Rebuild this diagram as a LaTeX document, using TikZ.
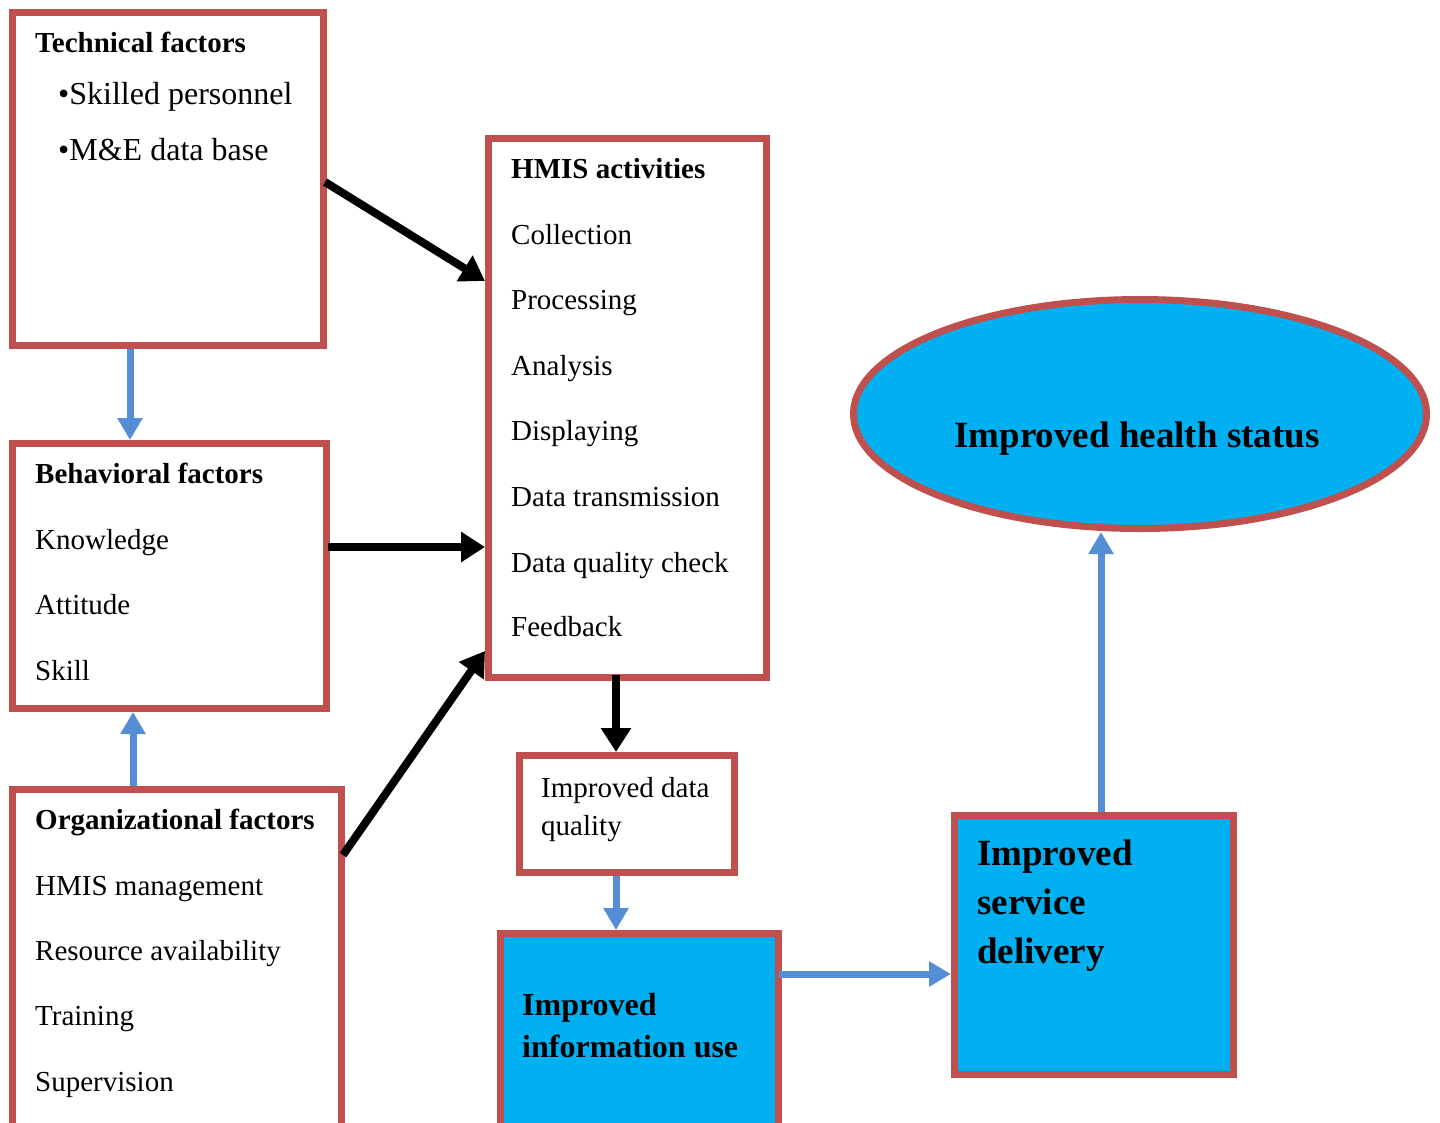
\documentclass[tikz,border=0pt]{standalone}
\usepackage{fontspec}
\setmainfont{Liberation Serif}
\usetikzlibrary{arrows.meta,calc,shapes.geometric}
\definecolor{bred}{HTML}{C0504D}
\definecolor{bfill}{HTML}{00B0F0}
\definecolor{barrow}{HTML}{558ED5}
\begin{document}
\begin{tikzpicture}[x=1pt,y=-1pt,
 box/.style={draw=bred,line width=7pt,rectangle,inner sep=0pt,fill=white},
 fbox/.style={box,fill=bfill},
 txt/.style={anchor=base west,inner sep=0pt,font=\fontsize{29}{34}\selectfont},
 btxt/.style={anchor=base west,inner sep=0pt,font=\fontsize{29}{34}\selectfont\bfseries},
 bigtxt/.style={anchor=base west,inner sep=0pt,font=\fontsize{37}{44}\selectfont\bfseries},
 barr/.style={draw=black,line width=8pt,-{Triangle[length=24pt,width=29pt]}},
 blarr/.style={draw=barrow,line width=7pt,-{Triangle[length=22pt,width=24pt]}}]
\useasboundingbox (0,0) rectangle (1440,1122);
\clip (0,0) rectangle (1440,1122);
\fill[white] (0,0) rectangle (1440,1122);

% boxes
\node[box,minimum width=311pt,minimum height=333pt] (tech) at (168,179) {};
\node[box,minimum width=314pt,minimum height=265pt] (beh) at (169.5,576) {};
\node[box,minimum width=329pt,minimum height=351pt] (org) at (177,965) {};
\node[box,minimum width=278pt,minimum height=539pt] (hmis) at (627.5,408) {};
\node[box,minimum width=215pt,minimum height=117pt] (idq) at (627,814) {};
\node[fbox,minimum width=278pt,minimum height=207pt] (iiu) at (639.5,1037) {};
\node[fbox,minimum width=279pt,minimum height=259pt] (isd) at (1094,945) {};
\node[draw=bred,line width=7pt,fill=bfill,ellipse,inner sep=0pt,minimum width=573pt,minimum height=229pt] (ell) at (1140,414) {};

% technical
\node[btxt] (t0) at (35,52) {Technical factors};
\node[txt,font=\fontsize{32}{36}\selectfont] (t1) at (58,104) {•Skilled personnel};
\node[txt,font=\fontsize{32}{36}\selectfont] (t2) at (58,160) {•M\&E data base};

% behavioral
\node[btxt] (b0) at (35,483) {Behavioral factors};
\node[txt] (b1) at (35,549) {Knowledge};
\node[txt] (b2) at (35,614) {Attitude};
\node[txt] (b3) at (35,680) {Skill};

% organizational
\node[btxt] (o0) at (35,829) {Organizational factors};
\node[txt] (o1) at (35,895) {HMIS management};
\node[txt] (o2) at (35,960) {Resource availability};
\node[txt] (o3) at (35,1025) {Training};
\node[txt] (o4) at (35,1091) {Supervision};

% hmis
\node[btxt] (h0) at (511,178) {HMIS activities};
\node[txt] (h1) at (511,244) {Collection};
\node[txt] (h2) at (511,309) {Processing};
\node[txt] (h3) at (511,375) {Analysis};
\node[txt] (h4) at (511,440) {Displaying};
\node[txt] (h5) at (511,506) {Data transmission};
\node[txt] (h6) at (511,572) {Data quality check};
\node[txt] (h7) at (511,636) {Feedback};

% improved data quality
\node[txt] (q1) at (541,797) {Improved data};
\node[txt] (q2) at (541,835) {quality};

% improved information use
\node[txt,font=\fontsize{32}{38}\selectfont\bfseries] (u1) at (522,1015) {Improved};
\node[txt,font=\fontsize{32}{38}\selectfont\bfseries] (u2) at (522,1057) {information use};

% improved service delivery
\node[bigtxt] (s1) at (977,865) {Improved};
\node[bigtxt] (s2) at (977,914) {service};
\node[bigtxt] (s3) at (977,963) {delivery};

% health status
\node[font=\fontsize{37}{44}\selectfont\bfseries,inner sep=0pt,anchor=base] (e1) at (1137,447) {Improved health status};

% black arrows
\draw[barr] ($(tech.east)+(-2,3)$) -- ($(hmis.west)+(0,-127)$);
\draw[barr] ($(beh.east)+(-2,-29)$) -- ($(hmis.west)+(0,139)$);
\draw[barr] ($(org.east)+(-2,-110)$) -- ($(hmis.west)+(0,243)$);
\coordinate (hq) at ($(hmis.south)+(-11.5,-6)$);
\draw[barr] (hq) -- (hq |- idq.north);

% blue arrows
\coordinate (tb) at ($(tech.south)+(-38,0)$);
\draw[blarr] (tb) -- (tb |- beh.north);
\coordinate (ob) at ($(org.north)+(-44,0)$);
\draw[blarr] (ob) -- (ob |- beh.south);
\coordinate (qu) at ($(idq.south)+(-11,0)$);
\draw[blarr] (qu) -- (qu |- iiu.north);
\coordinate (us) at ($(iiu.east)+(-3,-63)$);
\draw[blarr] (us) -- (us -| isd.west);
\coordinate (se) at ($(isd.north)+(7,0)$);
\draw[blarr] (se) -- (se |- ell.south);
\end{tikzpicture}
\end{document}
